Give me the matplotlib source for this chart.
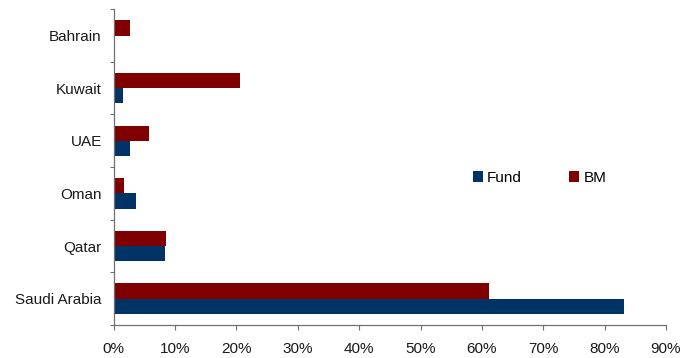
import numpy as np
import matplotlib
matplotlib.use("Agg")
import matplotlib.pyplot as plt
from matplotlib.ticker import FixedLocator, PercentFormatter

# Country weights (%), bottom to top on the chart
countries = ["Saudi Arabia", "Qatar", "Oman", "UAE", "Kuwait", "Bahrain"]
fund = [83.2, 8.3, 3.6, 2.6, 1.5, 0.0]
bm = [61.1, 8.5, 1.7, 5.7, 20.5, 2.6]

FUND_COLOR = "#003366"
BM_COLOR = "#800000"
AXIS_COLOR = "#707070"

plt.rcParams["font.family"] = ["Liberation Sans", "DejaVu Sans"]
plt.rcParams["font.size"] = 11

fig = plt.figure(figsize=(6.88, 3.58), dpi=100)
ax = fig.add_axes([0.1653, 0.0922, 0.8027, 0.882])

y = np.arange(len(countries))
h = 0.29
ax.barh(y - h / 2, fund, height=h, color=FUND_COLOR, label="Fund")
ax.barh(y + h / 2, bm, height=h, color=BM_COLOR, label="BM")

ax.set_xlim(0, 90)
ax.set_ylim(-0.5, len(countries) - 0.5)
ax.set_xticks(np.arange(0, 91, 10))
ax.xaxis.set_major_formatter(PercentFormatter(decimals=0))

ax.set_yticks(y)
ax.set_yticklabels(countries, color="#1a1a1a")
ax.yaxis.set_minor_locator(FixedLocator(np.arange(-0.5, len(countries), 1)))
ax.tick_params(axis="y", which="major", length=0, pad=8.6)
ax.tick_params(axis="y", which="minor", length=3, width=0.8, color=AXIS_COLOR)
ax.tick_params(axis="x", length=3.5, width=0.8, color=AXIS_COLOR, pad=8.5,
               labelcolor="#1a1a1a")

for side in ("top", "right"):
    ax.spines[side].set_visible(False)
for side in ("left", "bottom"):
    ax.spines[side].set_color(AXIS_COLOR)
    ax.spines[side].set_linewidth(0.9)

ax.legend(loc="center left", bbox_to_anchor=(0.65, 0.466), ncol=2,
          frameon=False, borderaxespad=0, borderpad=0,
          handlelength=0.65, handleheight=0.65, handletextpad=0.3,
          columnspacing=3.1)

fig.savefig("out.png", dpi=100)
